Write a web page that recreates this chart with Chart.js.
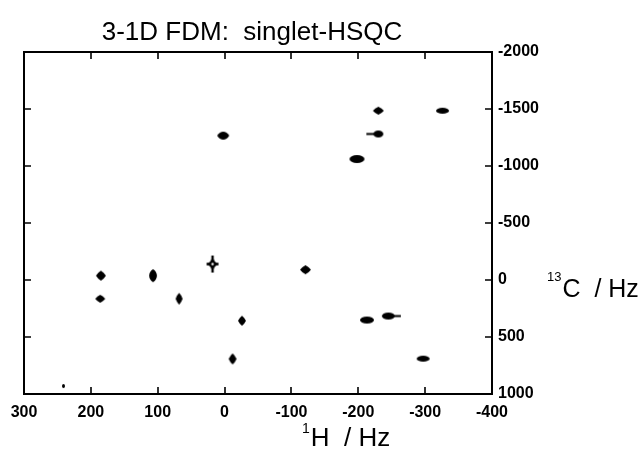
<!DOCTYPE html>
<html><head><meta charset="utf-8">
<script src="https://cdn.jsdelivr.net/npm/chart.js@4.4.1/dist/chart.umd.min.js"></script>
<style>html,body{margin:0;padding:0;background:#fff}</style>
</head><body>
<canvas id="c" width="641" height="467"></canvas>
<script>
// ---- data ----
const titleText = '3-1D FDM:  singlet-HSQC';
const xAxisTitle = ['1', 'H  / Hz'];
const yAxisTitle = ['13', 'C  / Hz'];
const xTicks = [300, 200, 100, 0, -100, -200, -300, -400];
const yTicks = [-2000, -1500, -1000, -500, 0, 500, 1000];
const protonHz = [2, -230, -326, -230, -198, 185, 186, 107, 18, 68, -12, 241, -121, -26, -213, -245, -297];
const carbonHz = [-1266, -1485, -1485, -1281, -1061, -38, 165, -38, -140, 165, 692, 930, -90, 357, 351, 316, 690];
// ---- styles (peak glyph shape and pixel size) ----
const peakShapes = [
  {k:'lens', w:12, h:8}, {k:'diamond', w:11, h:8}, {k:'ellipse', w:13, h:6}, {k:'ellipse', w:10, h:7, tailL:7},
  {k:'ellipse', w:15, h:8}, {k:'diamond', w:10, h:10}, {k:'diamond', w:10, h:8}, {k:'vlens', w:8, h:13},
  {k:'star', w:12, h:17}, {k:'diamond', w:7, h:12}, {k:'diamond', w:8, h:11}, {k:'ellipse', w:3, h:4},
  {k:'diamond', w:11, h:9}, {k:'diamond', w:8, h:10}, {k:'ellipse', w:14, h:7}, {k:'ellipse', w:13, h:7, tailR:6},
  {k:'ellipse', w:13, h:6}
];

function makeGlyph(s) {
  const ext = Math.max(s.w / 2 + (s.tailL || 0), s.w / 2 + (s.tailR || 0));
  const W = Math.ceil(ext * 2) + 4, H = Math.ceil(s.h) + 4;
  const cv = document.createElement('canvas');
  cv.width = W; cv.height = H;
  const g = cv.getContext('2d');
  g.translate(W / 2, H / 2);
  g.fillStyle = '#000';
  g.strokeStyle = '#000';
  const a = s.w / 2, b = s.h / 2;
  g.beginPath();
  if (s.k === 'ellipse') {
    g.ellipse(0, 0, a, b, 0, 0, Math.PI * 2);
  } else if (s.k === 'lens') {
    g.moveTo(-a, 0);
    g.bezierCurveTo(-a * 0.5, -b * 1.3, a * 0.5, -b * 1.3, a, 0);
    g.bezierCurveTo(a * 0.5, b * 1.3, -a * 0.5, b * 1.3, -a, 0);
  } else if (s.k === 'vlens') {
    g.moveTo(0, -b);
    g.bezierCurveTo(a * 1.3, -b * 0.5, a * 1.3, b * 0.5, 0, b);
    g.bezierCurveTo(-a * 1.3, b * 0.5, -a * 1.3, -b * 0.5, 0, -b);
  } else if (s.k === 'diamond') {
    g.moveTo(0, -b);
    g.quadraticCurveTo(a * 0.62, -b * 0.62, a, 0);
    g.quadraticCurveTo(a * 0.62, b * 0.62, 0, b);
    g.quadraticCurveTo(-a * 0.62, b * 0.62, -a, 0);
    g.quadraticCurveTo(-a * 0.62, -b * 0.62, 0, -b);
  } else if (s.k === 'star') {
    const k = 0.2;
    g.moveTo(0, -b);
    g.quadraticCurveTo(a * k, -b * k, a, 0);
    g.quadraticCurveTo(a * k, b * k, 0, b);
    g.quadraticCurveTo(-a * k, b * k, -a, 0);
    g.quadraticCurveTo(-a * k, -b * k, 0, -b);
  }
  g.closePath();
  g.fill();
  if (s.k === 'star') {
    g.lineWidth = 2.4;
    g.beginPath(); g.moveTo(0, -b); g.lineTo(0, b); g.moveTo(-a, 0); g.lineTo(a, 0); g.stroke();
    g.beginPath(); g.arc(0, 0, 3, 0, Math.PI * 2); g.fill();
    g.fillStyle = '#fff';
    g.beginPath(); g.arc(0, 0, 1.2, 0, Math.PI * 2); g.fill();
  }
  g.fillStyle = '#000';
  if (s.tailL) g.fillRect(-a - s.tailL, -1, s.tailL + 1, 2);
  if (s.tailR) g.fillRect(a - 1, -1, s.tailR + 1, 2);
  return cv;
}
const glyphs = peakShapes.map(makeGlyph);

const FONT = '"Liberation Sans", Arial, Helvetica, sans-serif';

const framePlugin = {
  id: 'frame',
  afterDraw(chart) {
    const ctx = chart.ctx, ca = chart.chartArea;
    const xs = chart.scales.x, ys = chart.scales.y;
    ctx.save();
    ctx.strokeStyle = '#000';
    ctx.lineWidth = 2;
    ctx.strokeRect(ca.left, ca.top, ca.right - ca.left, ca.bottom - ca.top);
    ctx.lineWidth = 1.6;
    const tl = 7;
    ctx.beginPath();
    xTicks.forEach(v => {
      const px = Math.round(xs.getPixelForValue(v));
      ctx.moveTo(px, ca.bottom); ctx.lineTo(px, ca.bottom - tl);
      ctx.moveTo(px, ca.top); ctx.lineTo(px, ca.top + tl);
    });
    yTicks.forEach(v => {
      const py = Math.round(ys.getPixelForValue(v));
      ctx.moveTo(ca.left, py); ctx.lineTo(ca.left + tl, py);
      ctx.moveTo(ca.right, py); ctx.lineTo(ca.right - tl, py);
    });
    ctx.stroke();
    ctx.fillStyle = '#000';
    // title
    ctx.font = '26px ' + FONT;
    ctx.textAlign = 'center';
    ctx.textBaseline = 'alphabetic';
    ctx.fillText(titleText, 252, 40);
    // x axis title
    ctx.textAlign = 'left';
    ctx.font = '14px ' + FONT;
    const wSup = ctx.measureText(xAxisTitle[0]).width;
    const x0 = 302;
    ctx.fillText(xAxisTitle[0], x0, 433);
    ctx.font = '26px ' + FONT;
    ctx.fillText(xAxisTitle[1], x0 + wSup + 1, 446);
    // y axis title
    const yc = 288;
    ctx.font = '13px ' + FONT;
    ctx.fillText(yAxisTitle[0], 547, yc - 7);
    const w13 = ctx.measureText(yAxisTitle[0]).width;
    ctx.font = '25px ' + FONT;
    ctx.fillText(yAxisTitle[1], 547 + w13 + 1, yc + 9);
    ctx.restore();
  }
};

const plain = v => String(v);

new Chart(document.getElementById('c'), {
  type: 'scatter',
  data: {
    datasets: [{
      data: protonHz.map((h, i) => ({x: h, y: carbonHz[i]})),
      pointStyle: glyphs,
      backgroundColor: '#000',
      borderColor: '#000'
    }]
  },
  options: {
    responsive: false,
    animation: false,
    devicePixelRatio: 1,
    layout: {padding: {left: 24, top: 52, right: 0, bottom: 0}},
    plugins: {legend: {display: false}, tooltip: {enabled: false}, title: {display: false}},
    scales: {
      x: {
        type: 'linear', position: 'bottom', min: -400, max: 300, reverse: true,
        afterBuildTicks: s => { s.ticks = xTicks.map(v => ({value: v})); },
        afterFit: s => { s.height = 73; },
        grid: {display: false, drawTicks: false}, border: {display: false},
        ticks: {padding: 9, color: '#000', maxRotation: 0, autoSkip: false, callback: plain,
                font: {family: FONT, size: 16, weight: 'bold'}}
      },
      y: {
        type: 'linear', position: 'right', min: -2000, max: 1000, reverse: true,
        afterBuildTicks: s => { s.ticks = yTicks.map(v => ({value: v})); },
        afterFit: s => { s.width = 149; },
        grid: {display: false, drawTicks: false}, border: {display: false},
        ticks: {padding: 6, color: '#000', autoSkip: false, callback: plain,
                font: {family: FONT, size: 16, weight: 'bold'}}
      }
    }
  },
  plugins: [framePlugin]
});
</script>
</body></html>
